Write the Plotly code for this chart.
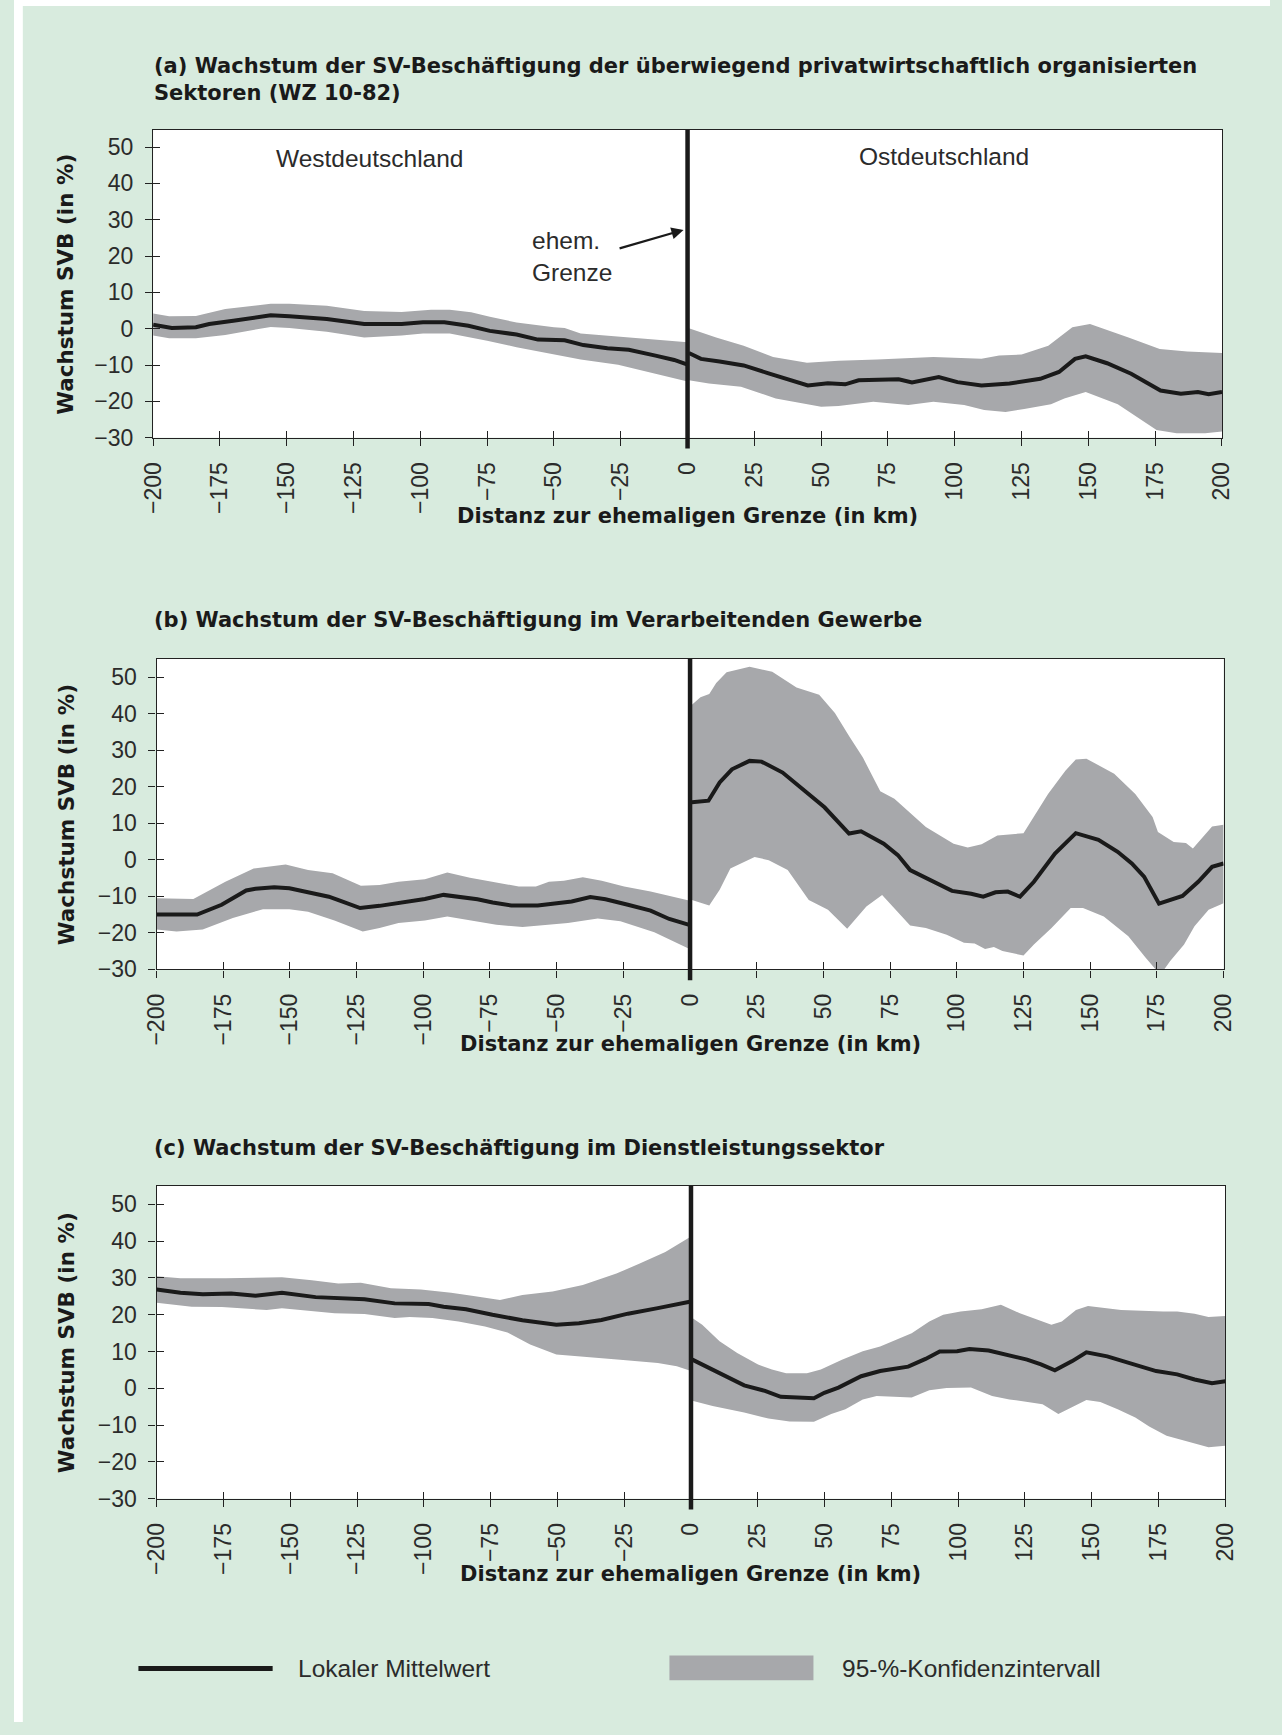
import plotly.graph_objects as go

W, H = 1282, 1735

# ---------------- data ----------------
x_ticks = [-200, -175, -150, -125, -100, -75, -50, -25, 0, 25, 50, 75, 100, 125, 150, 175, 200]
x_tick_labels = ["−200", "−175", "−150", "−125", "−100", "−75", "−50", "−25", "0",
                 "25", "50", "75", "100", "125", "150", "175", "200"]
y_ticks = [-30, -20, -10, 0, 10, 20, 30, 40, 50]
y_tick_labels = ["−30", "−20", "−10", "0", "10", "20", "30", "40", "50"]

# Panel (a) – West
a_w_mean_x = [-200, -193, -184, -179, -170, -156, -149, -135, -121, -107, -99, -91, -82, -74, -64, -56, -46, -39, -30, -22, -12, -5, 0]
a_w_mean_y = [1.1, 0.2, 0.4, 1.3, 2.2, 3.7, 3.4, 2.7, 1.3, 1.3, 1.8, 1.8, 0.8, -0.6, -1.6, -3.0, -3.2, -4.5, -5.4, -5.8, -7.4, -8.6, -9.9]
a_w_up_x = [-200, -194, -184, -173, -156, -149, -135, -121, -107, -96, -89, -81, -74, -64, -50, -46, -40, -26, -12, 0]
a_w_up_y = [4.2, 3.4, 3.5, 5.4, 6.9, 6.9, 6.3, 4.9, 4.6, 5.2, 5.2, 4.5, 3.3, 1.7, 0.4, 0.2, -1.3, -2.1, -3.0, -3.7]
a_w_lo_x = [-200, -194, -184, -173, -156, -149, -135, -121, -107, -99, -89, -75, -64, -50, -40, -26, -12, 0]
a_w_lo_y = [-1.9, -2.6, -2.6, -1.7, 0.5, 0.2, -0.8, -2.4, -1.9, -1.3, -1.3, -3.3, -5.1, -7.1, -8.5, -9.9, -12.4, -14.5]
# Panel (a) – East
a_e_mean_x = [0.5, 5, 12, 21, 30, 37, 45, 52.5, 59, 64, 79, 84, 94, 101, 110, 120.5, 132, 139, 145, 149, 157, 166, 171.5, 177, 184.6, 191, 195, 200]
a_e_mean_y = [-6.7, -8.3, -9.0, -10.1, -12.2, -13.8, -15.6, -15.0, -15.3, -14.2, -13.9, -14.8, -13.3, -14.7, -15.6, -15.1, -13.8, -11.9, -8.3, -7.6, -9.5, -12.4, -14.7, -17.0, -17.9, -17.4, -18.0, -17.4]
a_e_up_x = [0.5, 10.7, 21, 32, 44.7, 56.5, 71, 92, 110, 116.6, 125, 135, 144, 150.6, 165, 176.7, 187, 200]
a_e_up_y = [0.1, -2.4, -4.7, -7.8, -9.4, -8.8, -8.5, -7.8, -8.3, -7.4, -7.1, -4.7, 0.4, 1.3, -2.4, -5.6, -6.3, -6.7]
a_e_lo_x = [0.5, 8, 20, 33, 50, 56.5, 69.5, 82.6, 92, 103.5, 111, 119, 126, 136, 141, 149, 161, 175.5, 183, 193.7, 200]
a_e_lo_y = [-14.2, -15.1, -16.0, -19.2, -21.5, -21.3, -20.1, -21.0, -20.1, -21.0, -22.4, -22.9, -22.1, -20.8, -19.2, -17.4, -20.8, -27.9, -28.8, -28.8, -28.3]

# Panel (b) – West
b_w_mean_x = [-200, -184.8, -175.6, -166.4, -162.9, -155.9, -150.2, -143.2, -135.4, -130.5, -123.7, -116.4, -107.9, -99.4, -92.4, -86.7, -79.7, -74, -67, -57.1, -50.1, -44.4, -37.4, -31.7, -23.3, -14.8, -7.8, 0]
b_w_mean_y = [-15.0, -15.0, -12.3, -8.4, -7.9, -7.5, -7.8, -9.0, -10.1, -11.4, -13.2, -12.6, -11.7, -10.7, -9.6, -10.1, -10.8, -11.7, -12.5, -12.5, -11.9, -11.4, -10.2, -10.8, -12.3, -13.9, -16.2, -17.9]
b_w_up_x = [-200, -192.5, -186.2, -174.2, -163.6, -151.6, -143.2, -134, -123.4, -116.4, -109.3, -99.4, -91, -82.5, -74, -64.2, -57.8, -52.9, -47.3, -40.2, -33.1, -24.7, -14.8, 0]
b_w_up_y = [-10.5, -10.5, -10.7, -6.0, -2.4, -1.3, -2.8, -3.7, -7.1, -6.9, -6.0, -5.3, -3.5, -4.9, -6.0, -7.3, -7.3, -6.0, -5.7, -4.8, -5.7, -7.3, -8.7, -11.2]
b_w_lo_x = [-200, -192.5, -182.7, -171.4, -160.1, -150.2, -143.2, -133.3, -122.7, -116.4, -109.3, -99.4, -91, -82.5, -72.6, -62.8, -54.3, -45.8, -34.6, -26.1, -13.4, -6.4, 0]
b_w_lo_y = [-19.1, -19.6, -19.1, -15.9, -13.5, -13.5, -14.2, -16.6, -19.6, -18.7, -17.3, -16.6, -15.5, -16.6, -17.8, -18.4, -17.8, -17.3, -16.1, -16.8, -19.8, -22.3, -24.5]
# Panel (b) – East
b_e_mean_x = [0.7, 6.9, 11.1, 15.7, 22.3, 26.8, 34.7, 42.5, 50.4, 59.6, 64.1, 72.6, 77.9, 82.5, 90.3, 98.2, 105.4, 109.9, 114.5, 119.1, 123.7, 128.9, 136.8, 144.6, 153.1, 160.3, 165.6, 170.2, 175.8, 184.6, 190.5, 195.7, 200]
b_e_mean_y = [15.8, 16.2, 21.2, 24.8, 27.1, 26.9, 23.9, 19.1, 14.4, 7.2, 7.8, 4.4, 1.3, -2.8, -5.5, -8.5, -9.3, -10.1, -8.9, -8.7, -10.1, -6.0, 1.7, 7.3, 5.5, 2.2, -1.0, -4.6, -12.0, -9.9, -6.0, -1.9, -1.0]
b_e_up_x = [0.7, 3.9, 7.2, 9.8, 13.7, 22.3, 30.8, 39.9, 48.4, 54.3, 59.6, 64.8, 71.3, 76.6, 88.4, 98.8, 104.1, 109.3, 115.2, 125, 134.2, 140.7, 144.6, 148.6, 159, 166.9, 173.4, 175.4, 181.3, 185.9, 188.5, 195.7, 200]
b_e_up_y = [42.5, 44.5, 45.4, 48.4, 51.4, 52.9, 51.5, 47.2, 45.2, 40.2, 33.9, 28.0, 18.8, 16.7, 9.0, 4.4, 3.4, 4.3, 6.7, 7.3, 18.0, 24.4, 27.5, 27.7, 23.6, 18.0, 11.7, 7.6, 4.9, 4.6, 3.1, 9.1, 9.6]
b_e_lo_x = [0.7, 7.2, 11.1, 15.1, 24.2, 29.5, 36.6, 44.5, 51.7, 58.9, 66.1, 72, 82.5, 88.4, 96.2, 102.7, 106.7, 110.6, 113.9, 117.1, 125, 128.9, 135.5, 142.7, 147.3, 155.1, 164.3, 170.8, 176.3, 180, 185.2, 189.1, 194.4, 200]
b_e_lo_y = [-11.0, -12.5, -8.2, -2.4, 0.8, -0.1, -2.8, -11.0, -13.7, -18.9, -12.8, -9.6, -18.0, -18.7, -20.5, -22.7, -22.9, -24.4, -23.9, -25.0, -26.2, -23.2, -18.7, -13.2, -13.2, -15.5, -20.9, -26.8, -31.5, -27.7, -23.2, -18.2, -13.7, -11.9]

# Panel (c) – West
c_w_mean_x = [-200, -191.1, -182.7, -172.1, -163, -153.1, -140.5, -130.6, -122.2, -110.9, -98.2, -92.6, -84.2, -74.3, -63.1, -50.4, -41.9, -33.5, -23.6, -12.4, 0]
c_w_mean_y = [26.9, 26.0, 25.6, 25.8, 25.2, 26.0, 24.8, 24.6, 24.2, 23.1, 22.9, 22.2, 21.5, 20.0, 18.5, 17.3, 17.7, 18.6, 20.3, 21.8, 23.6]
c_w_up_x = [-200, -191.1, -174.2, -153.1, -141.9, -132, -123.6, -112.3, -101.1, -89.8, -81.4, -71.5, -63.1, -51.8, -40.5, -27.9, -19.4, -9.6, 0]
c_w_up_y = [30.5, 29.9, 29.9, 30.2, 29.4, 28.5, 28.7, 27.2, 26.9, 26.0, 25.1, 24.0, 25.4, 26.3, 28.1, 31.2, 33.9, 37.1, 41.3]
c_w_lo_x = [-200, -186.9, -175.6, -164.4, -158.8, -153.1, -144.7, -133.4, -122.2, -110.9, -105.3, -96.8, -87, -77.1, -68.7, -60.2, -50.4, -40.5, -26.5, -12.4, -5.3, 0]
c_w_lo_y = [23.3, 22.2, 22.1, 21.5, 21.3, 21.8, 21.3, 20.4, 20.2, 19.1, 19.4, 19.1, 18.2, 16.8, 15.2, 11.9, 9.2, 8.5, 7.8, 6.9, 6.0, 4.7]
# Panel (c) – East
c_e_mean_x = [0.5, 9.4, 19.9, 27.7, 33.6, 46, 49.9, 55.2, 63.7, 70.8, 81.3, 87.8, 93.1, 99.6, 104.2, 111.4, 119.2, 125.8, 131, 136.2, 142.7, 148, 155.8, 163.7, 174.1, 182, 188.5, 195, 200]
c_e_mean_y = [7.8, 4.7, 0.8, -0.7, -2.3, -2.7, -1.2, 0.2, 3.3, 4.7, 5.9, 8.0, 10.0, 10.1, 10.7, 10.3, 8.9, 7.8, 6.5, 4.9, 7.4, 9.8, 8.7, 6.9, 4.7, 3.8, 2.4, 1.4, 1.9]
c_e_up_x = [0.5, 4.2, 10.7, 17.3, 25.1, 30.3, 35.6, 43.4, 48.6, 56.5, 64.3, 70.8, 82.6, 89.2, 94.4, 100.9, 108.8, 116, 123.1, 131, 134.9, 138.8, 144.1, 148.6, 161, 176.7, 182, 188.5, 193.7, 200]
c_e_up_y = [19.1, 17.3, 12.8, 9.6, 6.5, 5.1, 4.1, 4.1, 5.1, 7.8, 10.1, 11.4, 15.0, 18.2, 20.0, 20.9, 21.5, 22.7, 20.4, 18.2, 17.3, 18.2, 21.3, 22.4, 21.3, 20.9, 20.9, 20.3, 19.4, 19.7]
c_e_lo_x = [0.5, 8.1, 19.9, 29, 36.9, 46, 52.5, 57.8, 64.3, 69.5, 82.6, 89.2, 95.7, 104.8, 112.7, 119.2, 131.6, 137.5, 141.4, 148, 153.2, 159.7, 166.3, 171.5, 178, 185.9, 193.7, 200]
c_e_lo_y = [-3.4, -4.8, -6.6, -8.2, -9.0, -9.1, -7.0, -5.7, -3.0, -2.1, -2.5, -0.5, 0.1, 0.2, -2.1, -3.0, -4.3, -7.0, -5.7, -3.2, -3.7, -5.7, -7.9, -10.4, -12.9, -14.5, -16.0, -15.6]

panel_titles = [
    "(a) Wachstum der SV-Beschäftigung der überwiegend privatwirtschaftlich organisierten<br>Sektoren (WZ 10-82)",
    "(b) Wachstum der SV-Beschäftigung im Verarbeitenden Gewerbe",
    "(c) Wachstum der SV-Beschäftigung im Dienstleistungssektor",
]
x_title = "Distanz zur ehemaligen Grenze (in km)"
y_title = "Wachstum SVB (in %)"
legend_labels = ["Lokaler Mittelwert", "95-%-Konfidenzintervall"]

# ---------------- styling / geometry ----------------
GREEN = "#d8ebde"
BAND = "#a7a8ab"
LINE = "#1a1a1a"
TXT = "#2b2b2b"
LIGHT_FONT = "Liberation Sans"
BOLD_FONT = "DejaVu Sans"
LIGHT_SIZE = 24.5

# pixel geometry of the three plot areas: left, right, top, bottom, y-top value
geom = [
    (142.0, 1233.0, 131.0, 441.0, 54.7),
    (145.5, 1234.6, 664.0, 976.7, 55.0),
    (145.6, 1236.4, 1195.0, 1510.0, 55.0),
]
title_y = [80.5, 625, 1157]
xtitle_y = [520, 1052, 1586]

def px(x):
    return x / W

def py(y):
    return 1 - y / H

panels = [
    (a_w_mean_x, a_w_mean_y, a_w_up_x, a_w_up_y, a_w_lo_x, a_w_lo_y,
     a_e_mean_x, a_e_mean_y, a_e_up_x, a_e_up_y, a_e_lo_x, a_e_lo_y),
    (b_w_mean_x, b_w_mean_y, b_w_up_x, b_w_up_y, b_w_lo_x, b_w_lo_y,
     b_e_mean_x, b_e_mean_y, b_e_up_x, b_e_up_y, b_e_lo_x, b_e_lo_y),
    (c_w_mean_x, c_w_mean_y, c_w_up_x, c_w_up_y, c_w_lo_x, c_w_lo_y,
     c_e_mean_x, c_e_mean_y, c_e_up_x, c_e_up_y, c_e_lo_x, c_e_lo_y),
]

fig = go.Figure()
layout = {}
shapes = []
annotations = []

for i, (pdata, (l, r, t, b, ytop)) in enumerate(zip(panels, geom)):
    n = i + 1
    xa, ya = f"x{n if n > 1 else ''}", f"y{n if n > 1 else ''}"
    xo, yo = f"x{n + 3}", f"y{n + 3}"
    (wmx, wmy, wux, wuy, wlx, wly, emx, emy, eux, euy, elx, ely) = pdata

    for ux, uy, lx, ly in [(wux, wuy, wlx, wly), (eux, euy, elx, ely)]:
        fig.add_trace(go.Scatter(
            x=list(ux) + list(lx)[::-1], y=list(uy) + list(ly)[::-1],
            fill="toself", fillcolor=BAND, mode="lines", line=dict(width=0, color=BAND),
            xaxis=xa, yaxis=ya, hoverinfo="skip", showlegend=False))
    for mx, my in [(wmx, wmy), (emx, emy)]:
        fig.add_trace(go.Scatter(
            x=mx, y=my, mode="lines", line=dict(color=LINE, width=4),
            xaxis=xa, yaxis=ya, showlegend=False))
    # dummy trace for the overlay axes carrying the inner tick marks
    fig.add_trace(go.Scatter(x=[], y=[], xaxis=xo, yaxis=yo, showlegend=False, hoverinfo="skip"))

    xdom = [px(l), px(r)]
    ydom = [py(b), py(t)]
    common_x = dict(range=[-200, 200], tickmode="array", tickvals=x_ticks, showgrid=False,
                    zeroline=False, fixedrange=True)
    common_y = dict(range=[-30, ytop], tickmode="array", tickvals=y_ticks, showgrid=False,
                    zeroline=False, fixedrange=True)
    layout[f"xaxis{n if n > 1 else ''}"] = dict(
        common_x, domain=xdom, anchor=ya, ticktext=x_tick_labels, tickangle=-90,
        ticks="outside", ticklen=7, tickwidth=1.4, tickcolor="#222",
        showline=True, linecolor="#222", linewidth=1.4, mirror=True,
        tickfont=dict(family=LIGHT_FONT, size=23, color=TXT), ticklabelstandoff=7)
    layout[f"yaxis{n if n > 1 else ''}"] = dict(
        common_y, domain=ydom, anchor=xa, ticktext=y_tick_labels,
        ticks="outside", ticklen=7, tickwidth=1.4, tickcolor="#222",
        showline=True, linecolor="#222", linewidth=1.4, mirror=True,
        tickfont=dict(family=LIGHT_FONT, size=23, color=TXT), ticklabelstandoff=7)
    layout[f"xaxis{n + 3}"] = dict(
        common_x, overlaying=xa, anchor=yo, ticks="inside", ticklen=7, tickwidth=1.4,
        tickcolor="#222", showticklabels=False, showline=False)
    layout[f"yaxis{n + 3}"] = dict(
        common_y, domain=ydom, overlaying=ya, anchor=xo, ticks="inside", ticklen=7, tickwidth=1.4,
        tickcolor="#222", showticklabels=False, showline=False)

    # thick border line at x = 0
    shapes.append(dict(type="line", xref=xa, yref="paper", x0=0, x1=0,
                       y0=py(b + 11), y1=py(t), line=dict(color=LINE, width=4.5), layer="above"))

    annotations.append(dict(text=f"<b>{panel_titles[i]}</b>", xref="paper", yref="paper",
                            x=px(141), y=py(title_y[i]), xanchor="left", yanchor="middle",
                            align="left", showarrow=False,
                            font=dict(family=BOLD_FONT, size=21, color=LINE)))
    annotations.append(dict(text=f"<b>{x_title}</b>", xref="paper", yref="paper",
                            x=px((l + r) / 2), y=py(xtitle_y[i]), xanchor="center", yanchor="middle",
                            showarrow=False, font=dict(family=BOLD_FONT, size=21, color=LINE)))
    annotations.append(dict(text=f"<b>{y_title}</b>", xref="paper", yref="paper",
                            x=px(53), y=py((t + b) / 2), xanchor="center", yanchor="middle",
                            textangle=-90, showarrow=False,
                            font=dict(family=BOLD_FONT, size=21.5, color=LINE)))

# Panel (a) region labels and arrow
annotations += [
    dict(text="Westdeutschland", xref="x", yref="y", x=-119, y=46.8, showarrow=False,
         xanchor="center", yanchor="middle", font=dict(family=LIGHT_FONT, size=LIGHT_SIZE, color=TXT)),
    dict(text="Ostdeutschland", xref="x", yref="y", x=96, y=47.3, showarrow=False,
         xanchor="center", yanchor="middle", font=dict(family=LIGHT_FONT, size=LIGHT_SIZE, color=TXT)),
    dict(text="ehem.<br>Grenze", xref="x", yref="y", x=-59, y=19.9, showarrow=False,
         xanchor="left", yanchor="middle", align="left",
         font=dict(family=LIGHT_FONT, size=LIGHT_SIZE, color=TXT)),
    dict(text="", xref="x", yref="y", x=-1.5, y=27.2, axref="x", ayref="y", ax=-26, ay=22,
         showarrow=True, arrowhead=2, arrowsize=1.1, arrowwidth=2.2, arrowcolor=LINE),
]

# Legend
shapes.append(dict(type="line", xref="paper", yref="paper", x0=px(127), x1=px(264),
                   y0=py(1681), y1=py(1681), line=dict(color=LINE, width=5)))
shapes.append(dict(type="rect", xref="paper", yref="paper", x0=px(669), x1=px(816),
                   y0=py(1693), y1=py(1668), fillcolor=BAND, line=dict(width=0)))
annotations.append(dict(text=legend_labels[0], xref="paper", yref="paper", x=px(288), y=py(1681),
                        xanchor="left", yanchor="middle", showarrow=False,
                        font=dict(family=LIGHT_FONT, size=LIGHT_SIZE, color=TXT)))
annotations.append(dict(text=legend_labels[1], xref="paper", yref="paper", x=px(843), y=py(1681),
                        xanchor="left", yanchor="middle", showarrow=False,
                        font=dict(family=LIGHT_FONT, size=LIGHT_SIZE, color=TXT)))

# white margins at top and left of the green page
shapes.append(dict(type="rect", xref="paper", yref="paper", x0=0, x1=px(9), y0=0, y1=1,
                   fillcolor="white", line=dict(width=0), layer="below"))
shapes.append(dict(type="rect", xref="paper", yref="paper", x0=0, x1=1, y0=py(6), y1=1,
                   fillcolor="white", line=dict(width=0), layer="below"))

fig.update_layout(
    width=W, height=H, margin=dict(l=0, r=0, t=0, b=0),
    paper_bgcolor=GREEN, plot_bgcolor="white", showlegend=False,
    shapes=shapes, annotations=annotations, **layout)

fig.write_html("out.html", config={"displayModeBar": False},
               post_script="document.body.style.margin='0px';document.body.style.overflow='hidden';")
